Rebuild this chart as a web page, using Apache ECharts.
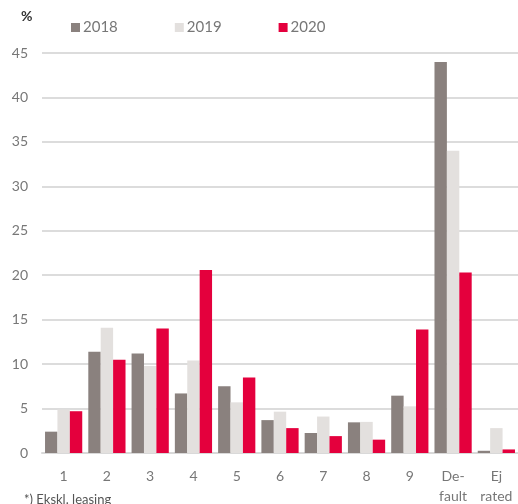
<!DOCTYPE html>
<html><head><meta charset="utf-8">
<script src="https://cdn.jsdelivr.net/npm/echarts@6/dist/echarts.min.js"></script>
<style>html,body{margin:0;padding:0;background:#fff}#c{width:518px;height:504px}</style>
</head><body><div id="c"></div>
<script>
const categories = ['1','2','3','4','5','6','7','8','9','De-\nfault','Ej\nrated'];
const s2018 = [2.4, 11.4, 11.2, 6.7, 7.5, 3.7, 2.25, 3.45, 6.45, 44.0, 0.25];
const s2019 = [4.9, 14.1, 9.8, 10.4, 5.7, 4.65, 4.1, 3.5, 5.25, 34.0, 2.8];
const s2020 = [4.7, 10.5, 14.0, 20.6, 8.5, 2.8, 1.9, 1.5, 13.9, 20.3, 0.4];
const seriesNames = ['2018','2019','2020'];
const colors = ['#8a817e','#e3e0de','#e4003d'];
const font = 'Lato, "Open Sans", sans-serif';
const chart = echarts.init(document.getElementById('c'));
const data = [s2018, s2019, s2020];
chart.setOption({
  animation: false,
  textStyle: {fontFamily: font},
  grid: {left: 42, right: 0, top: 53, bottom: 51, outerBoundsMode: 'none', containLabel: false},
  legend: {
    top: 15, left: 66, itemWidth: 9, itemHeight: 9, itemGap: 57,
    icon: 'rect',
    textStyle: {color: '#777', fontSize: 15, fontFamily: font, padding: [0,0,0,-2]},
    data: seriesNames
  },
  graphic: [
    {type: 'text', left: 21, top: 9, style: {text: '%', font: 'bold 14px ' + font, fill: '#333'}},
    {type: 'text', left: 24, top: 493, style: {text: '*) Ekskl. leasing', font: '13px ' + font, fill: '#555'}}
  ],
  xAxis: {
    type: 'category', data: categories,
    axisLine: {lineStyle: {color: '#d9d9d9', width: 2}},
    axisTick: {show: false},
    axisLabel: {color: '#777', fontSize: 14, margin: 13, lineHeight: 20, interval: 0}
  },
  yAxis: {
    type: 'value', min: 0, max: 45, interval: 5,
    axisLabel: {color: '#777', fontSize: 14, margin: 14},
    splitLine: {lineStyle: {color: '#dcdcdc', width: 2}},
    axisLine: {show: false}, axisTick: {show: false}
  },
  series: seriesNames.map((n, i) => ({
    name: n, type: 'bar', data: data[i],
    barGap: '0%', barCategoryGap: '14%',
    itemStyle: {color: colors[i]}
  }))
});
</script></body></html>
